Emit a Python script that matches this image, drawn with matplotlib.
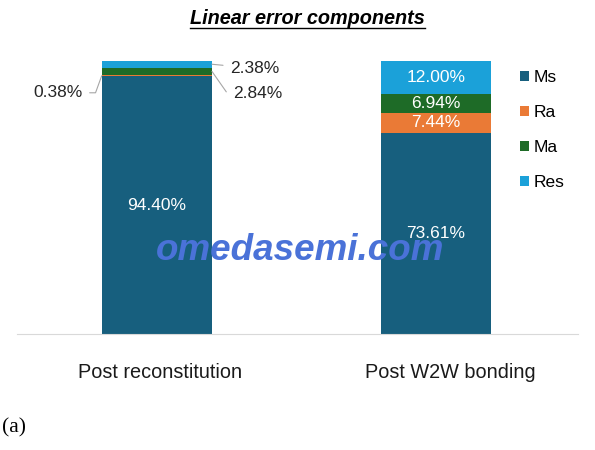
import matplotlib
matplotlib.use("Agg")
import matplotlib.pyplot as plt
import numpy as np
from matplotlib.lines import Line2D
from matplotlib.patches import Patch
from matplotlib.transforms import ScaledTranslation

plt.rcParams["font.family"] = ["Liberation Sans", "DejaVu Sans"]

########################
#         Data         #
########################
categories = ["Post reconstitution", "Post W2W bonding"]
components = ["Ms", "Ra", "Ma", "Res"]
ms = [94.40, 73.61]
ra = [0.38, 7.44]
ma = [2.84, 6.94]
res = [2.38, 12.00]
colors = ["#175f7e", "#ea7a36", "#1e6b27", "#1ba1d9"]

# small segments labelled outside the bar: side, text offset (px), leader angle
outside = {
    (0, "Ra"): ("left", (-19, -17), 70),
    (0, "Ma"): ("right", (21, -22), -55),
    (0, "Res"): ("right", (18, -4), None),
}

########################
#         Plot         #
########################
fig = plt.figure(figsize=(5.95, 4.5), dpi=100)
ax = fig.add_axes([17 / 595, 115.7 / 450, 561 / 595, 273.3 / 450])

x = np.arange(len(categories))
width = 0.395
bottom = np.zeros(len(categories))

for name, vals, color in zip(components, [ms, ra, ma, res], colors):
    vals = np.array(vals)
    ax.bar(x, vals, width, bottom=bottom, color=color, linewidth=0, label=name)
    for i, (xi, v, b) in enumerate(zip(x, vals, bottom)):
        mid = b + v / 2
        lbl = f"{v:.2f}%"
        if (i, name) in outside:
            side, off, ang = outside[(i, name)]
            edge = xi - width / 2 if side == "left" else xi + width / 2
            cs = "arc3,rad=0" if ang is None else f"angle,angleA=0,angleB={ang},rad=0"
            ax.annotate(lbl, xy=(edge, mid), xytext=off, textcoords="offset pixels",
                        ha="right" if side == "left" else "left", va="center",
                        fontsize=12.5, color="#262626",
                        arrowprops=dict(arrowstyle="-", color="#a6a6a6", lw=0.8,
                                        shrinkA=3, shrinkB=0, connectionstyle=cs))
        else:
            ax.text(xi, mid, lbl, ha="center", va="center", color="white", fontsize=12.5)
    bottom += vals

ax.set_xlim(-0.501, 1.509)
ax.set_ylim(0, 100)
for s in ["top", "right", "left"]:
    ax.spines[s].set_visible(False)
ax.spines["bottom"].set_color("#d9d9d9")
ax.set_yticks([])
ax.set_xticks(x)
ax.set_xticklabels(categories, fontsize=14.3, color="#1a1a1a")
ax.tick_params(axis="x", length=0, pad=21)
label_shift = [3, 14.5]
for lab, dx in zip(ax.get_xticklabels(), label_shift):
    lab.set_transform(lab.get_transform() + ScaledTranslation(dx / 100, 0, fig.dpi_scale_trans))

handles = [Patch(facecolor=c, label=n) for n, c in zip(components, colors)]
ax.legend(handles=handles, loc="upper left", bbox_to_anchor=(520 / 595, 1 - 70 / 450),
          bbox_transform=fig.transFigure, frameon=False, fontsize=12.5,
          handlelength=0.52, handleheight=0.52, handletextpad=0.25,
          labelspacing=1.15, borderpad=0, borderaxespad=0)

# title with underline
title = fig.text(307.5 / 595, 1 - 18 / 450, "Linear error components", fontsize=14.3,
                 fontweight="bold", style="italic", ha="center", va="center")
fig.canvas.draw()
bb = title.get_window_extent(fig.canvas.get_renderer()).transformed(fig.transFigure.inverted())
fig.add_artist(Line2D([bb.x0, bb.x1], [bb.y0 - 0.5 / 450] * 2, color="black", lw=1.0,
                      transform=fig.transFigure))

# watermark
fig.text(300 / 595, 1 - 251 / 450, "omedasemi.com", fontsize=26.5, fontweight="bold",
         style="italic", color="#4a72d8", ha="center", va="center", zorder=10)

fig.text(2 / 595, 1 - 428 / 450, "(a)", family="Liberation Serif", fontsize=15.5,
         ha="left", va="center")

fig.savefig("out.png", dpi=100)
